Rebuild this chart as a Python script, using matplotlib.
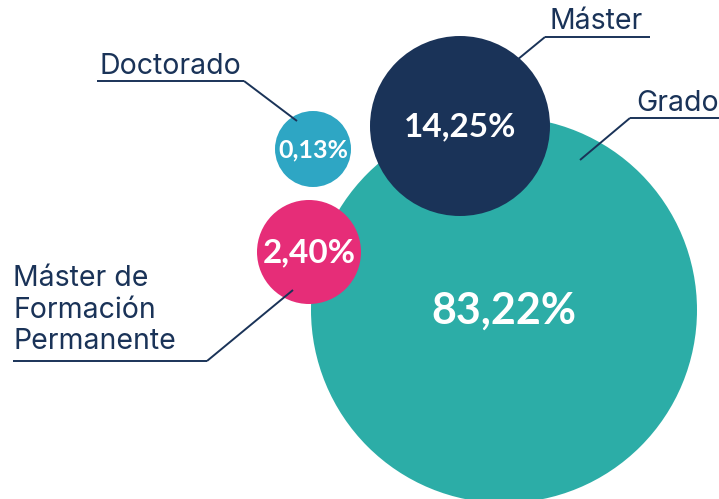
import matplotlib.pyplot as plt
from matplotlib.patches import Circle

# data
categories = ['Grado', 'Máster', 'Doctorado', 'Máster de\nFormación\nPermanente']
shares = [83.22, 14.25, 0.13, 2.40]
colors = ['#2cada7', '#1a3358', '#2ea6c4', '#e62d78']

# layout (pixel space of the 719x499 image)
centers = [(504, 310), (460, 126), (313, 149), (309, 252)]
radii = [193, 90, 38, 52]
value_sizes = [31, 24, 18, 24]

NAVY = '#1a3358'
plt.rcParams['font.family'] = ['Lato', 'DejaVu Sans']

fig = plt.figure(figsize=(7.19, 4.99), dpi=100)
ax = fig.add_axes([0, 0, 1, 1])
ax.set_xlim(0, 719)
ax.set_ylim(499, 0)
ax.set_aspect('equal')
ax.axis('off')

for (cx, cy), r, c, v, fs in zip(centers, radii, colors, shares, value_sizes):
    ax.add_patch(Circle((cx, cy), r, facecolor=c, edgecolor='none'))
    txt = f"{v:.2f}".replace('.', ',') + '%'
    ax.text(cx, cy + 1, txt, color='white', fontsize=fs, fontweight='bold',
            ha='center', va='center')

# labels with underline and leader line
# (text x, text y, underline x0, underline x1, underline y, leader start x, leader end)
labels = [
    (636, 103, 630, 719, 118, 630, (580, 160)),
    (549, 21, 545, 650, 37, 545, (517, 60)),
    (100, 66, 97, 244, 81, 244, (297, 121)),
    (13, 310, 13, 207, 361, 207, (293, 290)),
]
for name, (tx, ty, x0, x1, uy, lx, end) in zip(categories, labels):
    ax.text(tx, ty, name, color=NAVY, fontsize=20.5, ha='left', va='center',
            linespacing=1.2, family=['Inter', 'DejaVu Sans'])
    ax.plot([x0, x1], [uy, uy], color=NAVY, lw=1.4, solid_capstyle='butt')
    ax.plot([lx, end[0]], [uy, end[1]], color=NAVY, lw=1.4,
            solid_capstyle='butt')

fig.savefig('out.png', dpi=100)
